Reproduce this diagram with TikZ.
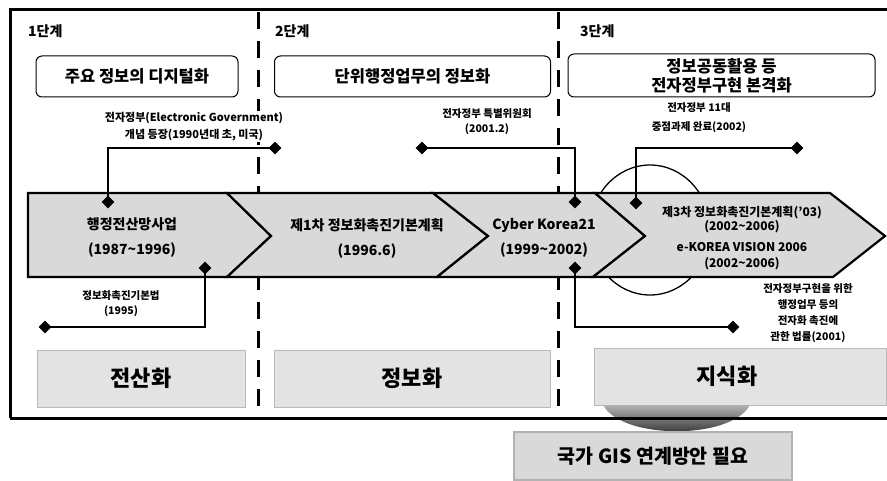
\documentclass[tikz,border=0pt]{standalone}
\usepackage{fontspec}
\setmainfont{Noto Sans CJK KR}
\usetikzlibrary{shapes.geometric}
\begin{document}
\begin{tikzpicture}[x=1pt,y=-1pt,
  frameline/.style={line width=3pt},
  stagediv/.style={line width=3pt, dash=on 17pt off 12pt phase 0pt},
  stagelbl/.style={anchor=west, inner sep=0, font=\bfseries\fontsize{14}{16}\selectfont},
  titlebox/.style={draw, line width=1pt, rounded corners=6pt, fill=white, align=center, inner sep=0,
    font=\bfseries\fontsize{16.5}{19}\selectfont},
  note/.style={align=center, inner sep=1pt, fill=white, font=\bfseries\fontsize{10.5}{15}\selectfont},
  seg/.style={fill=gray!30, draw=black, line width=2.2pt, line join=miter},
  bandtxt/.style={align=center, inner sep=0, font=\bfseries\fontsize{14}{25}\selectfont},
  bandtxtsm/.style={align=center, inner sep=0, font=\bfseries\fontsize{12}{14}\selectfont},
  dia/.style={diamond, fill=black, inner sep=0, minimum size=13pt},
  link/.style={line width=2pt},
  phase/.style={fill=gray!22, draw=gray!55, line width=0.8pt, inner sep=0,
    font=\bfseries\fontsize{22}{24}\selectfont},
  resultbox/.style={fill=gray!30, draw=gray!60, line width=1.5pt, inner sep=0,
    font=\bfseries\fontsize{19.5}{21}\selectfont},
]
\useasboundingbox (0,0) rectangle (887,481);
\fill[white] (0,0) rectangle (887,481);

% frame
\draw[frameline] (887,10) -- (10,10) -- (10,418);
% stage dividers
\draw[stagediv] (258,12) -- (258,418);
\draw[stagediv] (558,12) -- (558,418);

% stage labels
\node[stagelbl] (s1) at (28,31) {1단계};
\node[stagelbl] (s2) at (275,31) {2단계};
\node[stagelbl] (s3) at (580,31) {3단계};

% title boxes
\node[titlebox, minimum width=202pt, minimum height=41pt] (t1) at (137,76.5) {주요 정보의 디지털화};
\node[titlebox, minimum width=276pt, minimum height=41pt] (t2) at (412.5,76.5) {단위행정업무의 정보화};
\node[titlebox, minimum width=307pt, minimum height=43pt] (t3) at (721.5,75.5) {정보공동활용 등\\전자정부구현 본격화};

% circle behind band
\draw[line width=1.3pt] (650,230) ellipse [x radius=60, y radius=65];

% band
\draw[seg] (28,193) -- (227,193) -- (271,236) -- (227,277) -- (28,277) -- cycle;
\draw[seg] (227,193) -- (433,193) -- (488,236) -- (437,277) -- (227,277) -- (271,236) -- cycle;
\draw[seg] (433,193) -- (595,193) -- (645,236) -- (593,277) -- (437,277) -- (488,236) -- cycle;
\draw[seg] (595,193) -- (830,193) -- (885,236) -- (833,277) -- (593,277) -- (645,236) -- cycle;

\node[bandtxt] (b1) at (132,237.5) {행정전산망사업\\(1987\textasciitilde 1996)};
\node[bandtxt] (b2) at (367,238) {제1차 정보화촉진기본계획\\(1996.6)};
\node[bandtxt] (b3) at (544,238) {Cyber Korea21\\(1999\textasciitilde 2002)};
\node[bandtxtsm] (b4a) at (742,219.5) {제3차 정보화촉진기본계획('03)\\[0pt](2002\textasciitilde 2006)};
\node[bandtxtsm] (b4b) at (742,256) {e-KOREA VISION 2006\\[2pt](2002\textasciitilde 2006)};

% diamonds
\node[dia] (d1a) at (108,202) {};
\node[dia] (d1b) at (275,148) {};
\node[dia] (d2a) at (422,148) {};
\node[dia] (d2b) at (575,202) {};
\node[dia] (d3a) at (797,148) {};
\node[dia] (d3b) at (636,203) {};
\node[dia] (d4a) at (575,268) {};
\node[dia] (d4b) at (733,327) {};
\node[dia] (d5a) at (205,268) {};
\node[dia] (d5b) at (45,327) {};

% connectors
\draw[link] (d1a.center) |- (d1b.center);
\draw[link] (d2a.center) -| (d2b.center);
\draw[link] (d3a.center) -| (d3b.center);
\draw[link] (d4a.center) |- (d4b.center);
\draw[link] (d5a.center) |- (d5b.center);

% notes
\node[note, font=\bfseries\fontsize{11}{17}\selectfont] (n1) at (194,126.5) {전자정부(Electronic Government)\\개념 등장(1990년대 초, 미국)};
\node[note] (n2) at (487,122) {전자정부 특별위원회\\(2001.2)};
\node[note, font=\bfseries\fontsize{10.5}{19}\selectfont] (n3) at (699,118) {전자정부 11대\\중점과제 완료(2002)};
\node[note, font=\bfseries\fontsize{10.5}{16}\selectfont] (n4) at (808,313) {전자정부구현을 위한\\행정업무 등의\\전자화 촉진에\\관한 법률(2001)};
\node[note] (n5) at (121,304) {정보화촉진기본법\\(1995)};

% phase boxes
\node[phase, minimum width=208pt, minimum height=57pt] (p1) at (141,378.5) {전산화};
\node[phase, minimum width=276pt, minimum height=57pt] (p2) at (412,378.5) {정보화};
\node[phase, minimum width=292pt, minimum height=57pt] (p3) at (740,376.5) {\hspace*{-26pt}지식화};

% funnel
\shade[top color=gray!60, bottom color=black!90] (603,405) .. controls (622,440) and (731,440) .. (750,405) -- cycle;

% frame bottom
\draw[frameline] (10,418) -- (887,418);

% result
\node[resultbox, minimum width=278pt, minimum height=48pt] (r) at (653,456) {국가 GIS 연계방안 필요};
\end{tikzpicture}
\end{document}
